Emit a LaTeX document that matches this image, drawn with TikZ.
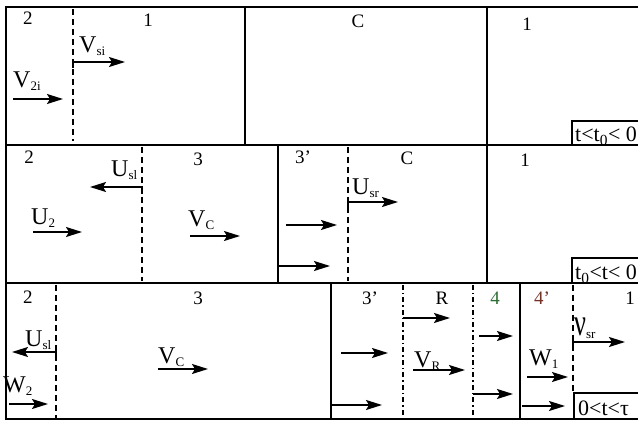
\documentclass[tikz,border=0pt]{standalone}
\usepackage{fontspec}
\setmainfont{Liberation Serif}
\usetikzlibrary{arrows.meta}
\definecolor{zonegreen}{RGB}{45,110,50}
\definecolor{zonered}{RGB}{115,50,40}
\newcommand{\idx}[1]{\raisebox{-3pt}{\fontsize{13}{13}\selectfont #1}}
\begin{document}
\begin{tikzpicture}[x=1pt,y=-1pt,
 wall/.style={line width=1.5pt},
 front/.style={line width=1.3pt,dash pattern=on 6pt off 4pt},
 contact/.style={line width=1.3pt,dash pattern=on 5pt off 3pt on 1.5pt off 3pt},
 vel/.style={-{Stealth[length=16pt,width=10pt,inset=3pt]},line width=1.5pt},
 zone/.style={font=\fontsize{19}{20}\selectfont},
 var/.style={font=\fontsize{24}{26}\selectfont,anchor=base west,inner sep=0pt},
 tbox/.style={font=\fontsize{22}{24}\selectfont,anchor=base west,inner sep=0pt}]

\useasboundingbox (0,0) rectangle (638,422);
\clip (0,0) rectangle (638,422);
\fill[white] (0,0) rectangle (638,422);

% rows and walls
\foreach \y in {7,145,283,419}{
\draw[wall] (5,\y) -- (645,\y);
}
\draw[wall] (6,7) -- (6,419);
\foreach \x/\ya/\yb in {245/7/145, 487/7/145, 278/145/283, 487/145/283, 331/283/419, 520/283/419}{
\draw[wall] (\x,\ya) -- (\x,\yb);
}

% shock fronts and contact surfaces
\foreach \x/\ya/\yb in {73/9/141, 142/147/281, 348/147/281, 56/285/418, 573/285/393}{
\draw[front] (\x,\ya) -- (\x,\yb);
}
\foreach \x in {403,473}{
\draw[contact] (\x,285) -- (\x,418);
}

% time boxes
\draw[wall] (572,145) |- (645,121);
\draw[wall] (572,283) |- (645,258);
\draw[wall] (574,419) |- (645,393);
\node[tbox] (t1) at (575,142) {t<t\textsubscript{0}< 0};
\node[tbox] (t2) at (575,280) {t\textsubscript{0}<t< 0};
\node[tbox] (t3) at (578,416) {0<t<τ};

% zone labels
\node[zone] (r1z2) at (28,18) {2};
\node[zone] (r1z1) at (148,20) {1};
\node[zone] (r1zc) at (358,21) {C};
\node[zone] (r1z1b) at (527,24) {1};
\node[zone] (r2z2) at (29,157) {2};
\node[zone] (r2z3) at (198,159) {3};
\node[zone] (r2z3p) at (303,157) {3'};
\node[zone] (r2zc) at (407,158) {C};
\node[zone] (r2z1) at (525,160) {1};
\node[zone] (r3z2) at (28,297) {2};
\node[zone] (r3z3) at (198,298) {3};
\node[zone] (r3z3p) at (370,298) {3'};
\node[zone] (r3zr) at (442,298) {R};
\node[zone,zonegreen] (r3z4) at (495,298) {4};
\node[zone,zonered] (r3z4p) at (542,298) {4'};
\node[zone] (r3z1) at (630,298) {1};

% velocity labels
\node[var] (vsi) at (79,53) {V\idx{si}};
\node[var] (v2i) at (13,88) {V\idx{2i}};
\node[var] (usl) at (111,177) {U\idx{sl}};
\node[var] (u2) at (31,225) {U\idx{2}};
\node[var] (vc) at (188,227) {V\idx{C}};
\node[var] (usr) at (352,195) {U\idx{sr}};
\node[var] (uslb) at (25,347) {U\idx{sl}};
\node[var] (w2) at (3,392) {W\idx{2}};
\node[var] (vcb) at (158,363) {V\idx{C}};
\node[var] (vr) at (414,367) {V\idx{R}};
\node[var] (w1) at (529,366) {W\idx{1}};
\node[var] (vsr) at (574,336) {\scalebox{1.1}[1.6]{ν}\idx{sr}};

% velocity arrows
\foreach \a/\b/\y in {13/63/99, 33/82/232, 190/240/236, 286/337/225, 279/330/266,
 9/48/404, 158/208/369, 341/388/353, 332/382/405, 413/465/370, 403/450/318,
 479/513/336, 473/513/394, 527/568/377, 522/565/406}{
\draw[vel] (\a,\y) -- (\b,\y);
}
\draw[vel] (73,68) |- (125,62);
\draw[vel] (142,194) |- (90,187);
\draw[vel] (348,208) |- (398,202);
\draw[vel] (56,357) |- (12,352);
\draw[vel] (573,348) |- (625,342);

\end{tikzpicture}
\end{document}
